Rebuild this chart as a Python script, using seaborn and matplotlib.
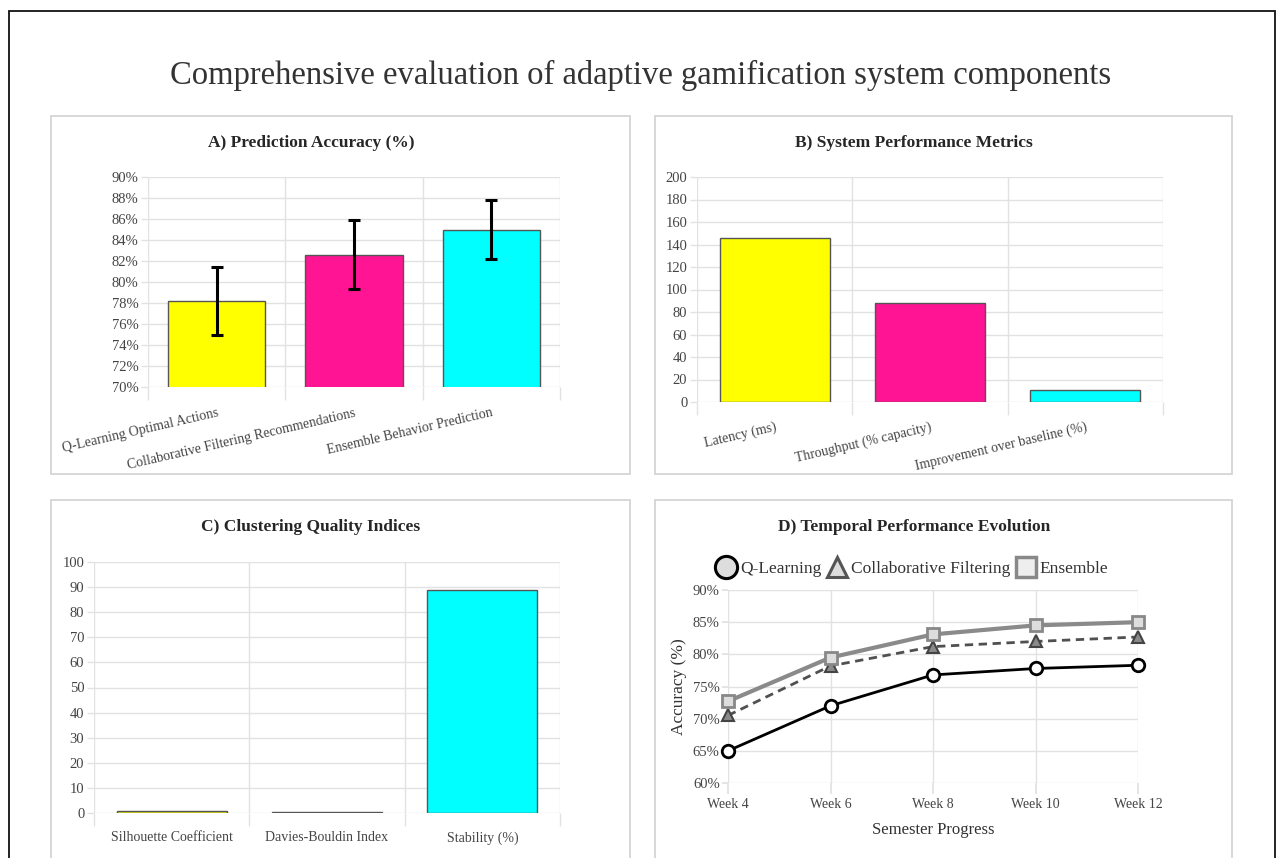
import matplotlib
matplotlib.use('Agg')
import matplotlib.pyplot as plt
from matplotlib.patches import Rectangle
from matplotlib.lines import Line2D
from matplotlib.ticker import PercentFormatter
import seaborn as sns

# Data
acc_models = ['Q-Learning Optimal Actions', 'Collaborative Filtering Recommendations', 'Ensemble Behavior Prediction']
acc_values = [78.2, 82.6, 85.0]
acc_errors = [3.2, 3.3, 2.85]

perf_metrics = ['Latency (ms)', 'Throughput (% capacity)', 'Improvement over baseline (%)']
perf_values = [146, 88, 11]

cluster_metrics = ['Silhouette Coefficient', 'Davies-Bouldin Index', 'Stability (%)']
cluster_values = [0.68, 0.42, 89]

weeks = ['Week 4', 'Week 6', 'Week 8', 'Week 10', 'Week 12']
q_learning = [65.0, 72.0, 76.8, 77.8, 78.3]
collab_filtering = [70.5, 78.2, 81.2, 82.0, 82.7]
ensemble = [72.7, 79.5, 83.1, 84.5, 85.0]

bar_colors = ['#FFFF00', '#FF1493', '#00FFFF']
grid_col = '#e2e2e2'

sns.set_theme(style='white')
plt.rcParams['font.family'] = ['Liberation Serif', 'DejaVu Serif']

W, H = 1279, 858
fig = plt.figure(figsize=(W / 100, H / 100), dpi=100)


def rect(x0, y0, x1, y1):
    # pixel box (top-left origin) -> figure fraction
    return [x0 / W, 1 - y1 / H, (x1 - x0) / W, (y1 - y0) / H]


def fxy(x, y):
    return x / W, 1 - y / H


# frames
fig.patches.append(Rectangle(fxy(8.5, 880), (1274.5 - 8.5) / W, (880 - 11) / H,
                             transform=fig.transFigure, fill=False, ec='#111111', lw=1.3))
for (x0, y0, x1, y1) in [(51, 116, 630, 474), (655, 116, 1232, 474),
                         (51, 500, 630, 880), (655, 500, 1232, 880)]:
    fig.patches.append(Rectangle(fxy(x0, y1), (x1 - x0) / W, (y1 - y0) / H,
                                 transform=fig.transFigure, fill=False, ec='#d4d4d4', lw=1.3))

fig.text(*fxy(641, 75), 'Comprehensive evaluation of adaptive gamification system components',
         ha='center', va='center', fontsize=23.5, color='#333333')


def style_bar_axes(ax, ticklen=9):
    sns.despine(ax=ax, left=True, bottom=True)
    ax.set_xlim(-0.5, 2.5)
    ax.set_xticks([-0.5, 0.5, 1.5, 2.5], minor=True)
    ax.grid(axis='y', which='major', color=grid_col, lw=1)
    ax.grid(axis='x', which='minor', color=grid_col, lw=1)
    ax.grid(axis='x', which='major', visible=False)
    ax.tick_params(axis='x', which='minor', bottom=True, length=ticklen, color=grid_col, width=1)
    ax.tick_params(axis='x', which='major', bottom=False, length=0, colors='#444444', labelsize=10)
    ax.tick_params(axis='y', left=True, length=5, color=grid_col, width=1, colors='#444444',
                   labelsize=10.5, pad=2)
    ax.set_xlabel('')
    ax.set_ylabel('')


# A) Prediction accuracy
axA = fig.add_axes(rect(148, 177, 560, 387))
sns.barplot(x=acc_models, y=acc_values, hue=acc_models, palette=bar_colors, saturation=1, width=0.71,
            edgecolor='#555555', linewidth=1, legend=False, ax=axA)
axA.errorbar(range(len(acc_models)), acc_values, yerr=acc_errors, fmt='none', ecolor='black',
             elinewidth=2.2, capsize=4, capthick=2.2, zorder=5)
axA.set_ylim(70, 90)
axA.set_yticks(range(70, 91, 2))
axA.yaxis.set_major_formatter(PercentFormatter(decimals=0))
style_bar_axes(axA)
plt.setp(axA.get_xticklabels(), rotation=13, ha='right', rotation_mode='anchor')
axA.tick_params(axis='x', which='major', pad=14)
fig.text(*fxy(311, 143), 'A) Prediction Accuracy (%)', ha='center', va='center',
         fontsize=12.5, fontweight='bold')

# B) System performance
axB = fig.add_axes(rect(697, 177, 1163, 402))
sns.barplot(x=perf_metrics, y=perf_values, hue=perf_metrics, palette=bar_colors, saturation=1, width=0.71,
            edgecolor='#555555', linewidth=1, legend=False, ax=axB)
axB.set_ylim(0, 200)
axB.set_yticks(range(0, 201, 20))
style_bar_axes(axB)
plt.setp(axB.get_xticklabels(), rotation=13, ha='right', rotation_mode='anchor')
axB.tick_params(axis='x', which='major', pad=13)
fig.text(*fxy(914, 143), 'B) System Performance Metrics', ha='center', va='center',
         fontsize=12.5, fontweight='bold')

# C) Clustering quality
axC = fig.add_axes(rect(94, 562, 560, 813))
sns.barplot(x=cluster_metrics, y=cluster_values, hue=cluster_metrics, palette=bar_colors, saturation=1,
            width=0.71, edgecolor='#555555', linewidth=1, legend=False, ax=axC)
axC.set_ylim(0, 100)
axC.set_yticks(range(0, 101, 10))
style_bar_axes(axC)
axC.tick_params(axis='x', which='major', pad=13)
fig.text(*fxy(311, 527), 'C) Clustering Quality Indices', ha='center', va='center',
         fontsize=12.5, fontweight='bold')

# D) Temporal evolution
axD = fig.add_axes(rect(728, 590, 1138, 783))
sns.lineplot(x=weeks, y=q_learning, ax=axD, color='black', lw=2, marker='o', ms=9,
             mfc='white', mec='black', mew=2, clip_on=False, zorder=3)
sns.lineplot(x=weeks, y=collab_filtering, ax=axD, color='#505050', lw=2, ls=(0, (3, 2)),
             marker='^', ms=8, mfc='#8a8a8a', mec='#444444', mew=1.5, clip_on=False, zorder=3)
sns.lineplot(x=weeks, y=ensemble, ax=axD, color='#8a8a8a', lw=3, marker='s', ms=8,
             mfc='#dddddd', mec='#888888', mew=2, clip_on=False, zorder=3)
axD.set_xlim(0, len(weeks) - 1)
axD.set_ylim(60, 90)
axD.set_yticks(range(60, 91, 5))
axD.yaxis.set_major_formatter(PercentFormatter(decimals=0))
sns.despine(ax=axD, left=True, bottom=True)
axD.grid(True, color=grid_col, lw=1)
axD.tick_params(axis='x', bottom=True, length=8, color=grid_col, colors='#444444', labelsize=10, pad=3)
axD.tick_params(axis='y', left=True, length=4, color=grid_col, colors='#444444', labelsize=10.5, pad=2)
axD.set_xlabel('Semester Progress', fontsize=12, color='#333333', labelpad=8)
axD.set_ylabel('Accuracy (%)', fontsize=12.5, color='#333333', labelpad=4)
fig.text(*fxy(914, 527), 'D) Temporal Performance Evolution', ha='center', va='center',
         fontsize=12.5, fontweight='bold')

handles = [
    Line2D([], [], ls='none', marker='o', ms=16, mfc='#dddddd', mec='black', mew=2.2),
    Line2D([], [], ls='none', marker='^', ms=15, mfc='#dddddd', mec='#555555', mew=2.2),
    Line2D([], [], ls='none', marker='s', ms=14, mfc='#eeeeee', mec='#888888', mew=2.5),
]
fig.legend(handles, ['Q-Learning', 'Collaborative Filtering', 'Ensemble'], loc='center',
           bbox_to_anchor=fxy(912, 569), ncol=3, frameon=False, fontsize=12.5,
           handletextpad=0.2, columnspacing=0.3, handlelength=1.2, labelcolor='#333333')

fig.savefig('out.png', dpi=100)
